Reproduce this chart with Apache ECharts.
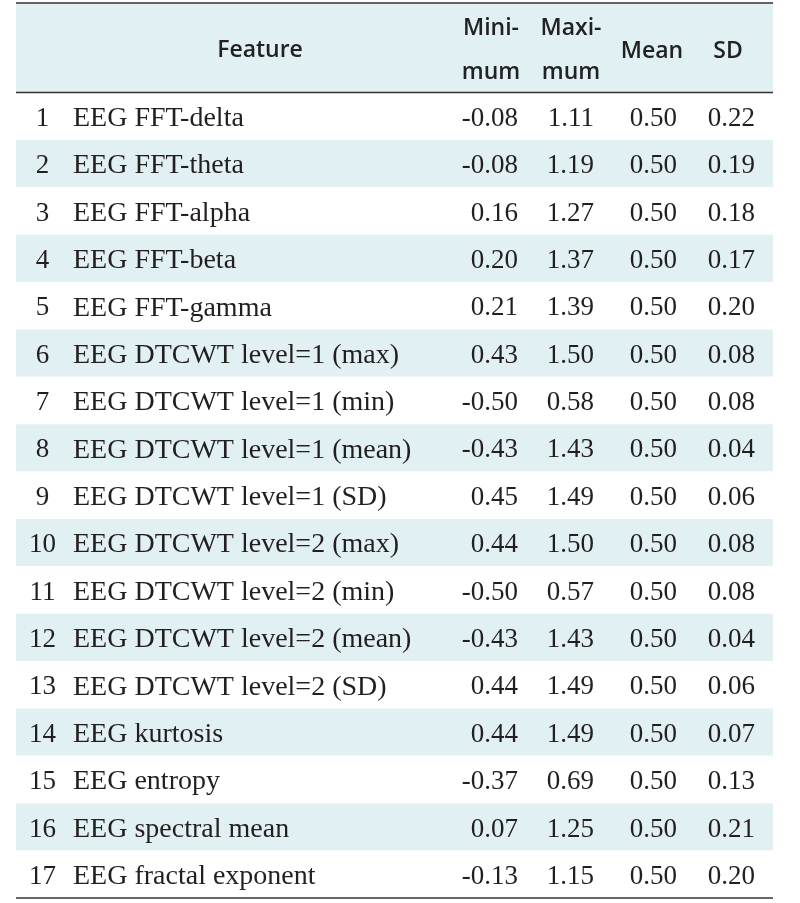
<!DOCTYPE html>
<html>
<head>
<meta charset="utf-8">
<script src="https://cdn.jsdelivr.net/npm/echarts@6/dist/echarts.min.js"></script>
<style>html,body{margin:0;padding:0;background:#fff}#c{width:800px;height:903px}</style>
</head>
<body>
<div id="c"></div>
<script>
// ---- data ----
var rowNumbers = ['1','2','3','4','5','6','7','8','9','10','11','12','13','14','15','16','17'];
var features = [
  'EEG FFT-delta','EEG FFT-theta','EEG FFT-alpha','EEG FFT-beta','EEG FFT-gamma',
  'EEG DTCWT level=1 (max)','EEG DTCWT level=1 (min)','EEG DTCWT level=1 (mean)','EEG DTCWT level=1 (SD)',
  'EEG DTCWT level=2 (max)','EEG DTCWT level=2 (min)','EEG DTCWT level=2 (mean)','EEG DTCWT level=2 (SD)',
  'EEG kurtosis','EEG entropy','EEG spectral mean','EEG fractal exponent'
];
var minimum = [-0.08,-0.08,0.16,0.20,0.21,0.43,-0.50,-0.43,0.45,0.44,-0.50,-0.43,0.44,0.44,-0.37,0.07,-0.13];
var maximum = [1.11,1.19,1.27,1.37,1.39,1.50,0.58,1.43,1.49,1.50,0.57,1.43,1.49,1.49,0.69,1.25,1.15];
var mean    = [0.50,0.50,0.50,0.50,0.50,0.50,0.50,0.50,0.50,0.50,0.50,0.50,0.50,0.50,0.50,0.50,0.50];
var sd      = [0.22,0.19,0.18,0.17,0.20,0.08,0.08,0.04,0.06,0.08,0.08,0.04,0.06,0.07,0.13,0.21,0.20];
var headerLabels = ['Feature', 'Mini-\nmum', 'Maxi-\nmum', 'Mean', 'SD'];

// ---- layout / style ----
var BAND = '#e1f0f3';
var LINE = '#333333';
var TXT = '#231f20';
var SERIF = '"Liberation Serif", "Times New Roman", serif';
var SANS = '"Open Sans", "Noto Sans", sans-serif';
var HFONT = '600 23px ' + SANS;
var TABLE_L = 16, TABLE_R = 773, HEAD_TOP = 3, HEAD_BOT = 92.5, TABLE_BOT = 898;
// column anchors (x in pixels, same as x-axis value)
var colNum = 42.5, colFeat = 73, colMin = 518, colMax = 594, colMean = 677, colSD = 755;
var FS_NUM = 27, FS_FEAT = 28;

var rows = features.map(function (f, i) { return [i]; });

var chart = echarts.init(document.getElementById('c'), null, {renderer: 'canvas'});

function fmt(v) { return v.toFixed(2); }

chart.setOption({
  animation: false,
  backgroundColor: '#fff',
  grid: { left: TABLE_L, right: 800 - TABLE_R, top: HEAD_BOT, bottom: 903 - TABLE_BOT, containLabel: false },
  xAxis: { type: 'value', min: TABLE_L, max: TABLE_R, show: false },
  yAxis: {
    type: 'category', data: rowNumbers, inverse: true, boundaryGap: true,
    axisLine: { show: false }, axisTick: { show: false }, axisLabel: { show: false },
    splitLine: { show: false },
    splitArea: { show: true, areaStyle: { color: ['#ffffff', BAND] } }
  },
  graphic: [
    { type: 'rect', shape: { x: TABLE_L, y: HEAD_TOP, width: TABLE_R - TABLE_L, height: HEAD_BOT - HEAD_TOP }, style: { fill: BAND }, z: 0 },
    { type: 'line', shape: { x1: TABLE_L, y1: HEAD_TOP, x2: TABLE_R, y2: HEAD_TOP }, style: { stroke: LINE, lineWidth: 1.5 }, z: 10 },
    { type: 'line', shape: { x1: TABLE_L, y1: HEAD_BOT, x2: TABLE_R, y2: HEAD_BOT }, style: { stroke: LINE, lineWidth: 1.5 }, z: 10 },
    { type: 'line', shape: { x1: TABLE_L, y1: TABLE_BOT, x2: TABLE_R, y2: TABLE_BOT }, style: { stroke: LINE, lineWidth: 1.5 }, z: 10 },
    { type: 'text', x: 260, y: 50, style: { text: headerLabels[0], font: HFONT, fill: '#222', textAlign: 'center', textVerticalAlign: 'middle' }, z: 10 },
    { type: 'text', x: 491, y: 50, style: { text: headerLabels[1], font: HFONT, fill: '#222', textAlign: 'center', textVerticalAlign: 'middle', lineHeight: 44 }, z: 10 },
    { type: 'text', x: 571, y: 50, style: { text: headerLabels[2], font: HFONT, fill: '#222', textAlign: 'center', textVerticalAlign: 'middle', lineHeight: 44 }, z: 10 },
    { type: 'text', x: 652, y: 51, style: { text: headerLabels[3], font: HFONT, fill: '#222', textAlign: 'center', textVerticalAlign: 'middle' }, z: 10 },
    { type: 'text', x: 728, y: 51, style: { text: headerLabels[4], font: HFONT, fill: '#222', textAlign: 'center', textVerticalAlign: 'middle' }, z: 10 }
  ],
  series: [{
    type: 'custom',
    coordinateSystem: 'cartesian2d',
    data: rows,
    encode: { y: 0 },
    renderItem: function (params, api) {
      var i = api.value(0);
      var y = api.coord([TABLE_L, i])[1] + 2.5;
      function t(x, s, align, fs) {
        return { type: 'text', x: api.coord([x, i])[0], y: y,
          style: { text: s, font: fs + 'px ' + SERIF, fill: TXT, textAlign: align, textVerticalAlign: 'middle' } };
      }
      return { type: 'group', children: [
        t(colNum, rowNumbers[i], 'center', FS_NUM),
        t(colFeat, features[i], 'left', FS_FEAT),
        t(colMin, fmt(minimum[i]), 'right', FS_NUM),
        t(colMax, fmt(maximum[i]), 'right', FS_NUM),
        t(colMean, fmt(mean[i]), 'right', FS_NUM),
        t(colSD, fmt(sd[i]), 'right', FS_NUM)
      ]};
    }
  }]
});
</script>
</body>
</html>
